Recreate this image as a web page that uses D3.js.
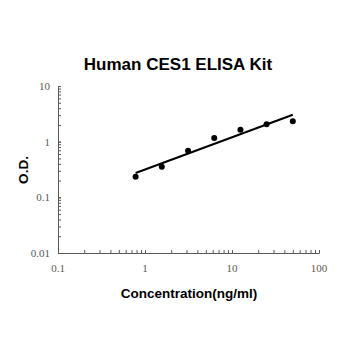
<!DOCTYPE html>
<html>
<head>
<meta charset="utf-8">
<script src="https://cdn.jsdelivr.net/npm/d3@7"></script>
<style>
  body { margin: 0; background: #fff; }
</style>
</head>
<body>
<div id="chart"></div>
<script>
// standard curve values
const concentrations = [0.78, 1.56, 3.125, 6.25, 12.5, 25, 50];
const odValues = [0.235, 0.356, 0.69, 1.16, 1.64, 2.05, 2.32];
const xTicks = [0.1, 1, 10, 100];
const yTicks = [0.01, 0.1, 1, 10];

const width = 350, height = 350;
const svg = d3.select("#chart").append("svg")
  .attr("width", width)
  .attr("height", height);

const x = d3.scaleLog().domain([0.1, 100]).range([58, 319]);
const y = d3.scaleLog().domain([0.01, 10]).range([253, 86]);

const axisColor = "#595959";

// minor ticks (2..9 in each decade)
function minorTicks(domain) {
  const out = [];
  for (let p = Math.log10(domain[0]); p < Math.log10(domain[1]); p++) {
    for (let k = 1; k <= 10; k++) out.push(k * Math.pow(10, p));
  }
  return out;
}

const xAxis = svg.append("g").attr("transform", "translate(0,253)")
  .call(d3.axisBottom(x).tickValues(minorTicks(x.domain())).tickSizeInner(-3).tickSizeOuter(0).tickFormat(""));
const yAxis = svg.append("g").attr("transform", "translate(58,0)")
  .call(d3.axisLeft(y).tickValues(minorTicks(y.domain())).tickSizeInner(-3).tickSizeOuter(0).tickFormat(""));
[xAxis, yAxis].forEach(g => {
  g.selectAll("path, line").attr("stroke", axisColor);
});

svg.selectAll(".xlab")
  .data(xTicks)
  .join("text")
  .attr("class", "xlab")
  .attr("x", d => x(d))
  .attr("y", 272)
  .attr("text-anchor", "middle")
  .style("font-family", "Liberation Serif, serif")
  .style("font-size", "11px")
  .attr("fill", axisColor)
  .text(d => d);

svg.selectAll(".ylab")
  .data(yTicks)
  .join("text")
  .attr("class", "ylab")
  .attr("x", 50)
  .attr("y", d => y(d) + 4)
  .attr("text-anchor", "end")
  .style("font-family", "Liberation Serif, serif")
  .style("font-size", "11px")
  .attr("fill", axisColor)
  .text(d => d);

// power-law trendline fitted on log-log values
const lx = concentrations.map(Math.log10), ly = odValues.map(Math.log10);
const mx = d3.mean(lx), my = d3.mean(ly);
const slope = d3.sum(lx, (v, i) => (v - mx) * (ly[i] - my)) / d3.sum(lx, v => (v - mx) * (v - mx));
const intercept = my - slope * mx;
const fit = c => Math.pow(10, intercept + slope * Math.log10(c));
const ends = [concentrations[0], concentrations[concentrations.length - 1]];

svg.append("path")
  .datum(ends)
  .attr("d", d3.line().x(d => x(d)).y(d => y(fit(d))))
  .attr("stroke", "#000")
  .attr("stroke-width", 2)
  .attr("fill", "none");

svg.selectAll("circle")
  .data(concentrations)
  .join("circle")
  .attr("cx", d => x(d))
  .attr("cy", (d, i) => y(odValues[i]))
  .attr("r", 3)
  .attr("fill", "#000");

svg.append("text")
  .attr("x", 178)
  .attr("y", 70)
  .attr("text-anchor", "middle")
  .style("font-family", "Liberation Sans, Arial, sans-serif")
  .style("font-weight", "bold")
  .style("font-size", "17px")
  .text("Human CES1 ELISA Kit");

svg.append("text")
  .attr("transform", "translate(28,170) rotate(-90)")
  .attr("text-anchor", "middle")
  .style("font-family", "Liberation Sans, Arial, sans-serif")
  .style("font-weight", "bold")
  .style("font-size", "13.5px")
  .text("O.D.");

svg.append("text")
  .attr("x", 189)
  .attr("y", 298)
  .attr("text-anchor", "middle")
  .style("font-family", "Liberation Sans, Arial, sans-serif")
  .style("font-weight", "bold")
  .style("font-size", "13.5px")
  .text("Concentration(ng/ml)");
</script>
</body>
</html>
